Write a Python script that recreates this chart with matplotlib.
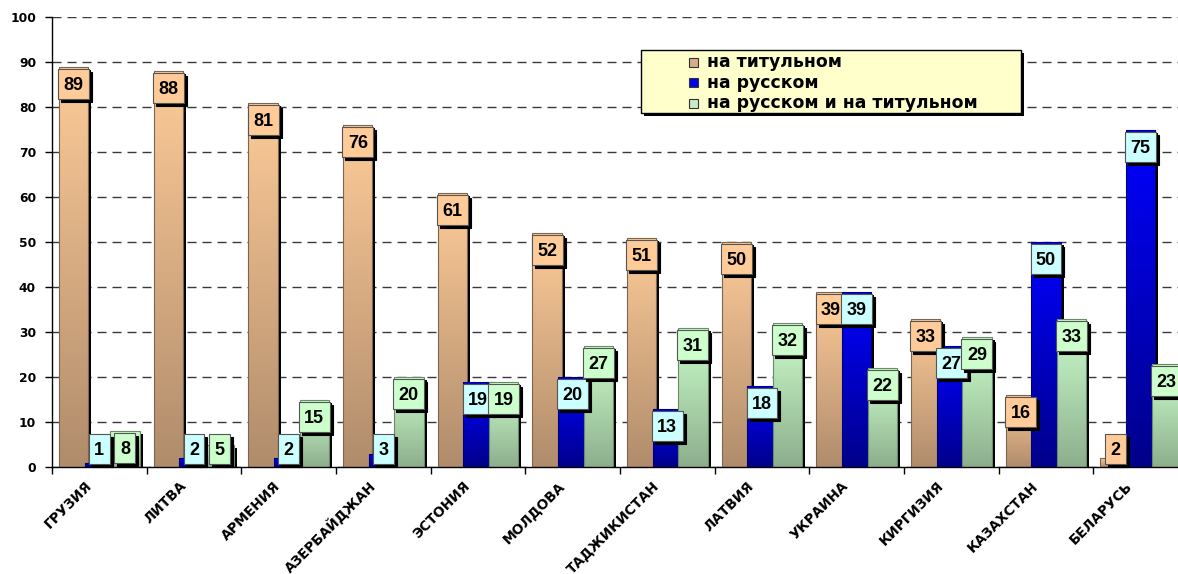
import matplotlib
matplotlib.use("Agg")
import matplotlib.pyplot as plt
import numpy as np
from matplotlib.colors import LinearSegmentedColormap
from matplotlib.patches import Rectangle
from matplotlib.path import Path
from matplotlib.transforms import offset_copy, ScaledTranslation

# data
countries = ["ГРУЗИЯ", "ЛИТВА", "АРМЕНИЯ", "АЗЕРБАЙДЖАН", "ЭСТОНИЯ", "МОЛДОВА",
             "ТАДЖИКИСТАН", "ЛАТВИЯ", "УКРАИНА", "КИРГИЗИЯ", "КАЗАХСТАН", "БЕЛАРУСЬ"]
titular = [89, 88, 81, 76, 61, 52, 51, 50, 39, 33, 16, 2]
russian = [1, 2, 2, 3, 19, 20, 13, 18, 39, 27, 50, 75]
both = [8, 5, 15, 20, 19, 27, 31, 32, 22, 29, 33, 23]
series_names = ["на титульном", "на русском", "на русском и на титульном"]

series = [titular, russian, both]
# (top colour, bottom colour, edge, label box, legend square)
styles = [
    ("#FDCB98", "#B08C6C", "#7A6652", "#FFCC99", "#D8AC88"),
    ("#0000FF", "#00008A", "#000070", "#CCFFFF", "#0000E8"),
    ("#CCFFCC", "#8DAE8D", "#6A8A6A", "#CCFFCC", "#C8EAC8"),
]

plt.rcParams["font.family"] = ["DejaVu Sans"]
plt.rcParams["font.weight"] = "bold"

W, H = 1178, 574
fig = plt.figure(figsize=(W / 100, H / 100), dpi=100)
ax = fig.add_axes([52 / W, 107 / H, (1188 - 52) / W, 450 / H])

n = len(countries)
centers = np.arange(n) + 0.5
offsets = [-0.27, 0.0, 0.27]
width = 0.31

ax.set_xlim(0, n)
ax.set_ylim(0, 100)

grad = np.linspace(1, 0, 256).reshape(-1, 1)
shadow_tr = offset_copy(ax.transData, fig=fig, x=3, y=-3, units="dots")

for i, vals in enumerate(series):
    top, bottom, edge, boxc, _ = styles[i]
    cmap = LinearSegmentedColormap.from_list("g%d" % i, [bottom, top])
    z = 2 + i * 0.1
    xs = centers + offsets[i]
    for x, v in zip(xs, vals):
        ax.add_patch(Rectangle((x - width / 2, 0), width, v, facecolor="black",
                               edgecolor="none", transform=shadow_tr, zorder=z))
    bars = ax.bar(xs, vals, width, facecolor="none", edgecolor=edge,
                  linewidth=0.8, zorder=z + 0.02)
    for b, v in zip(bars, vals):
        x0 = b.get_x()
        im = ax.imshow(grad, extent=[x0, x0 + width, 0, v], cmap=cmap,
                       vmin=0, vmax=1, aspect="auto", zorder=z + 0.01,
                       interpolation="bilinear")
        im.set_clip_path(b)


# label box: fixed height, small side padding
def label_box(x0, y0, w, h, ms):
    hp = 0.3 * ms
    hh = 0.83 * ms
    cy = y0 + h / 2 + 0.08 * ms
    return Path([(x0 - hp, cy - hh), (x0 + w + hp, cy - hh), (x0 + w + hp, cy + hh),
                 (x0 - hp, cy + hh), (x0 - hp, cy - hh)], closed=True)


lab_font = ["Liberation Sans", "DejaVu Sans"]
for i, vals in enumerate(series):
    boxc = styles[i][3]
    xs = centers + offsets[i]
    for x, v in zip(xs, vals):
        cy = max(v - 3.75, 4.2)
        ax.annotate(str(v), xy=(x, cy), xytext=(3, -5), textcoords="offset pixels",
                    ha="center", va="center", fontsize=13, color="black", family=lab_font,
                    bbox=dict(boxstyle=label_box, fc="black", ec="black", lw=0.8),
                    zorder=10 + i)
        ax.annotate(str(v), xy=(x, cy), xytext=(0, -2), textcoords="offset pixels",
                    ha="center", va="center", fontsize=13, color="black", family=lab_font,
                    bbox=dict(boxstyle=label_box, fc=boxc, ec="#555555", lw=0.8),
                    zorder=10.5 + i)

ax.set_aspect("auto")
ax.set_xlim(0, n)
ax.set_ylim(0, 100)

# axes, ticks, grid
ax.spines["top"].set_visible(False)
ax.spines["right"].set_visible(False)
ax.spines["left"].set_linewidth(1)
ax.spines["bottom"].set_linewidth(1)
ax.set_yticks(np.arange(0, 101, 10))
ax.tick_params(axis="y", length=5, width=1, labelsize=8.8, pad=6.5)
ax.yaxis.grid(True, linestyle=(0, (6.5, 4.3)), color="#3A3A3A", linewidth=1)
ax.set_axisbelow(True)

ax.set_xticks(np.arange(0, n + 1), minor=True)
ax.set_xticks(centers)
ax.set_xticklabels(countries, rotation=45, ha="right", va="center",
                   rotation_mode="anchor", fontsize=9.8)
ax.tick_params(axis="x", which="major", length=0, pad=12)
ax.tick_params(axis="x", which="minor", length=5, width=1)
shift = ScaledTranslation(-10 / 100, 0, fig.dpi_scale_trans)
for lab in ax.get_xticklabels():
    lab.set_transform(lab.get_transform() + shift)


# legend box
def px(x, y):
    return x / W, 1 - y / H


lx0, ly0, lx1, ly1 = 641, 50, 1021, 113
fig.add_artist(Rectangle(px(lx0 + 3, ly1 + 3), (lx1 - lx0) / W, (ly1 - ly0) / H,
                         transform=fig.transFigure, facecolor="black", edgecolor="none",
                         zorder=20))
fig.add_artist(Rectangle(px(lx0, ly1), (lx1 - lx0) / W, (ly1 - ly0) / H,
                         transform=fig.transFigure, facecolor="#FFFFCC",
                         edgecolor="black", linewidth=1, zorder=21))
for i, name in enumerate(series_names):
    yy = 62 + i * 20.5
    fig.add_artist(Rectangle(px(689, yy + 4.5), 9 / W, 9 / H, transform=fig.transFigure,
                             facecolor=styles[i][4], edgecolor="#333333", linewidth=0.8,
                             zorder=22))
    fx, fy = px(707, yy)
    fig.text(fx, fy, name, ha="left", va="center", fontsize=12.4, zorder=22)

fig.savefig("out.png", dpi=100)
